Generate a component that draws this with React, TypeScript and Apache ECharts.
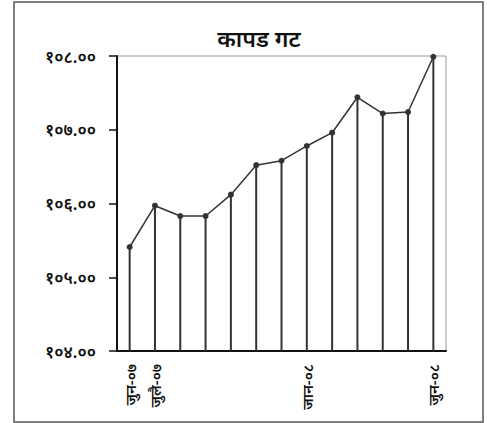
import React, { useEffect, useRef } from "react";
import * as echarts from "echarts";

const title = "कापड गट";
const categories = [
  "जुन-०७", "जुलै-०७", "अग-०७", "सेप-०७", "अक्टो-०७", "नोभे-०७", "डिसे-०७",
  "जान-०८", "फेब-०८", "मार्च-०८", "अप्रि-०८", "मे-०८", "जुन-०८",
];
const shownLabels = [0, 1, 7, 12];
const values = [
  105.41, 105.97, 105.83, 105.83, 106.12, 106.52, 106.58,
  106.78, 106.96, 107.44, 107.22, 107.24, 107.99,
];
const yMin = 104;
const yMax = 108;
const yStep = 1;

const devDigits = "०१२३४५६७८९";
const toDev = (s: string) => s.replace(/[0-9]/g, (d) => devDigits[Number(d)]);

export default function App() {
  const ref = useRef<HTMLDivElement>(null);
  useEffect(() => {
    document.body.style.margin = "0";
    if (!ref.current) return;
    const chart = echarts.init(ref.current, undefined, { renderer: "svg" });
    const font = "'Noto Sans', 'DejaVu Sans', sans-serif";
    chart.setOption({
      animation: false,
      backgroundColor: "#fff",
      title: {
        text: title,
        left: 254,
        top: 21,
        textAlign: "center",
        textStyle: { fontSize: 23, fontWeight: 600, color: "#111", fontFamily: font },
      },
      graphic: [
        {
          type: "rect",
          shape: { x: 14, y: 2, width: 469, height: 420 },
          style: { fill: "none", stroke: "#555", lineWidth: 1.5 },
          silent: true,
        },
      ],
      grid: {
        left: 117,
        top: 56,
        right: 41,
        bottom: 72,
        show: true,
        borderColor: "#999",
        borderWidth: 1,
      },
      xAxis: {
        type: "category",
        data: categories,
        boundaryGap: true,
        axisLine: { lineStyle: { color: "#111", width: 2 } },
        axisTick: { show: false },
        axisLabel: {
          rotate: 90,
          margin: 13,
          interval: (i: number) => shownLabels.includes(i),
          fontSize: 15,
          fontWeight: 600,
          color: "#111",
          fontFamily: font,
        },
      },
      yAxis: {
        type: "value",
        min: yMin,
        max: yMax,
        interval: yStep,
        splitLine: { show: false },
        axisLine: { show: true, lineStyle: { color: "#111", width: 2 } },
        axisTick: { show: true, length: 8, lineStyle: { color: "#111", width: 1.5 } },
        axisLabel: {
          margin: 21,
          fontSize: 17,
          fontWeight: 600,
          color: "#111",
          fontFamily: font,
          formatter: (v: number) => toDev(v.toFixed(2)),
        },
      },
      series: [
        {
          type: "bar",
          data: values,
          barWidth: 2,
          itemStyle: { color: "#333" },
          clip: true,
          silent: true,
        },
        {
          type: "line",
          data: values,
          symbol: "circle",
          symbolSize: 6,
          lineStyle: { color: "#333", width: 1.5 },
          itemStyle: { color: "#333" },
          silent: true,
        },
      ],
    });
    return () => chart.dispose();
  }, []);
  return <div ref={ref} style={{ position: "absolute", left: 0, top: 0, width: 487, height: 423 }} />;
}
